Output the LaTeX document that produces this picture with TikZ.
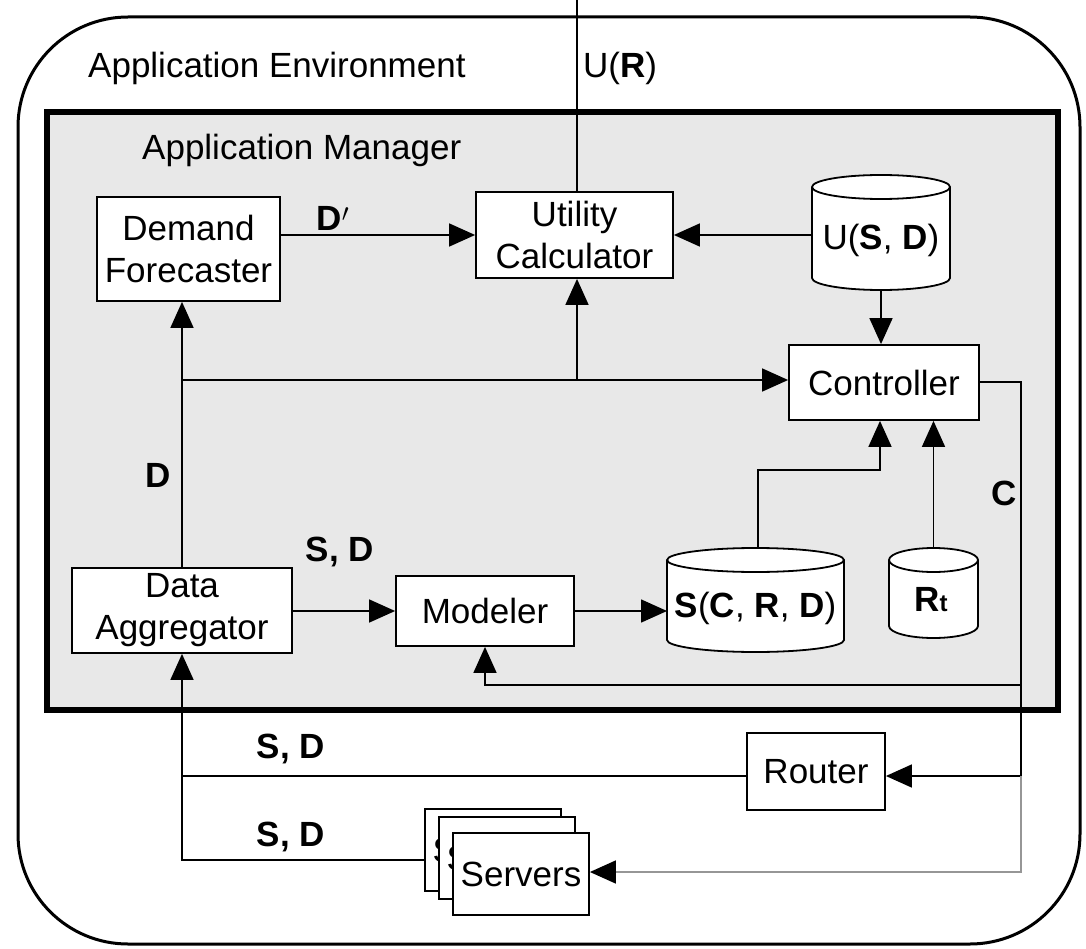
\documentclass[tikz,border=0pt]{standalone}
\usepackage{fontspec}
\setmainfont{Liberation Sans}
\usetikzlibrary{arrows.meta,calc}
\definecolor{mgrfill}{RGB}{232,232,232}
\definecolor{linkgray}{RGB}{150,150,150}
\tikzset{
  txt/.style={font=\fontsize{35}{42}\selectfont},
  box/.style={txt, draw, line width=1.8pt, fill=white, align=center, inner sep=0pt},
  link/.style={line width=1.6pt},
  arr/.style={link, -{Triangle[length=26pt,width=23pt,color=black]}},
  lbl/.style={font=\fontsize{35}{42}\selectfont\bfseries, inner sep=0pt},
  store/.style={inner sep=0pt, outer sep=0pt},
}
% data store drawn as a drum: centre x, top y, bottom y, half width
\newcommand\drum[4]{%
  \draw[line width=1.8pt, fill=white]
    (#1-#4,#2+12) -- (#1-#4,#3-12)
    arc[start angle=180, end angle=0, x radius=#4, y radius=12]
    -- (#1+#4,#2+12)
    arc[start angle=0, end angle=-180, x radius=#4, y radius=12] -- cycle;
  \draw[line width=1.8pt] (#1-#4,#2+12)
    arc[start angle=180, end angle=0, x radius=#4, y radius=12];}
\begin{document}
\begin{tikzpicture}[x=1pt, y=1pt, yscale=-1]
\useasboundingbox (0,0) rectangle (1086,949);

% application environment
\draw[line width=3pt, rounded corners=110] (18,17) rectangle (1080,944);
\node[txt, anchor=base west, inner sep=0pt] (envlbl) at (88,78) {Application Environment};

% application manager
\draw[line width=6pt, fill=mgrfill] (47,112) rectangle (1058,710);
\node[txt, anchor=base west, inner sep=0pt] (mgrlbl) at (142,160) {Application Manager};

% components
\node[box, minimum width=197, minimum height=86] (uc) at (574.5,235) {Utility\\Calculator};
\node[box, minimum width=183, minimum height=104] (df) at (188.5,249) {Demand\\Forecaster};
\node[box, minimum width=190, minimum height=75] (ctrl) at (884,382.5) {Controller};
\node[box, minimum width=220, minimum height=85] (da) at (182,610.5) {Data\\Aggregator};
\node[box, minimum width=178, minimum height=70] (mod) at (485,611) {Modeler};
\node[box, minimum width=138, minimum height=77] (router) at (816,771.5) {Router};

% servers
\node[box, minimum width=136, minimum height=82] (srvB) at (493,850) {Servers};
\node[box, minimum width=136, minimum height=82] (srvM) at (507,858) {Servers};
\node[box, minimum width=136, minimum height=82] (srvF) at (521,874) {Servers};

% data stores
\drum{881}{175}{290}{69}
\node[store, minimum width=138, minimum height=115] (usd) at (881,232.5) {};
\node[txt, inner sep=0pt] (usdtxt) at (881,240) {U(\textbf{S}, \textbf{D})};

\drum{755.5}{548}{652}{88.5}
\node[store, minimum width=177, minimum height=104] (scrd) at (755.5,600) {};
\node[txt, inner sep=0pt] (scrdtxt) at (755.5,608) {\textbf{S}(\textbf{C}, \textbf{R}, \textbf{D})};

\drum{933.5}{548}{638}{44.5}
\node[store, minimum width=89, minimum height=90] (rt) at (933.5,593) {};
\node[txt, inner sep=0pt] (rttxt) at (931,600) {\textbf{R}{\fontsize{24}{24}\selectfont\textbf{t}}};

% external utility output
\coordinate (uout) at (577,0);
\draw[line width=1.2pt] ([xshift=2.5pt]uc.north) -- (uout);
\node[txt, anchor=base west, inner sep=0pt] (uoutlbl) at (583,78) {U(\textbf{R})};

% manager connectors
\draw[arr] (df.east |- uc.west) -- (uc.west);
\node[lbl] (dprime) at (333,218) {D$^{\prime}$};
\draw[arr] (usd.west |- uc.east) -- (uc.east);
\draw[arr] (usd.south) -- (usd.south |- ctrl.north);

\coordinate (dj) at (183,380);
\draw[arr] (da.north) -- (da.north |- df.south);
\draw[arr] (dj) -- (ctrl.west |- dj);
\draw[arr] ([xshift=2.5pt]uc.south |- dj) -- ([xshift=2.5pt]uc.south);
\node[lbl] (dlbl) at (158,475) {D};

\draw[arr] (da.east |- mod.west) -- (mod.west);
\node[lbl] (sd1) at (340,552) {S, D};
\draw[arr] (mod.east) -- (mod.east -| scrd.west);

\coordinate (sj) at (758,470);
\draw[arr] (sj |- scrd.north) -- (sj) -| ([xshift=-4pt]ctrl.south);
\draw[arr] (rt.north) -- (rt.north |- ctrl.south);

% control output
\coordinate (c1) at (1021,382);
\coordinate (c2) at (1021,685);
\coordinate (c3) at (1021,776);
\coordinate (c4) at (1021,872);
\draw[link] (ctrl.east |- c1) -- (c1) -- (c3);
\node[lbl] (clbl) at (1004,493) {C};
\draw[arr] (c2) -| (mod.south);
\draw[arr] (c3) -- (c3 -| router.east);
\draw[arr, draw=linkgray] (c3) -- (c4) -- (c4 -| srvF.east);

% measurements back to the aggregator
\coordinate (sdin) at (425,860);
\draw[link] (router.west |- c3) -- (c3 -| da.south);
\node[lbl] (sd2) at (291,749) {S, D};
\draw[arr] (sdin) -| (da.south);
\node[lbl] (sd3) at (291,837) {S, D};
\end{tikzpicture}
\end{document}
